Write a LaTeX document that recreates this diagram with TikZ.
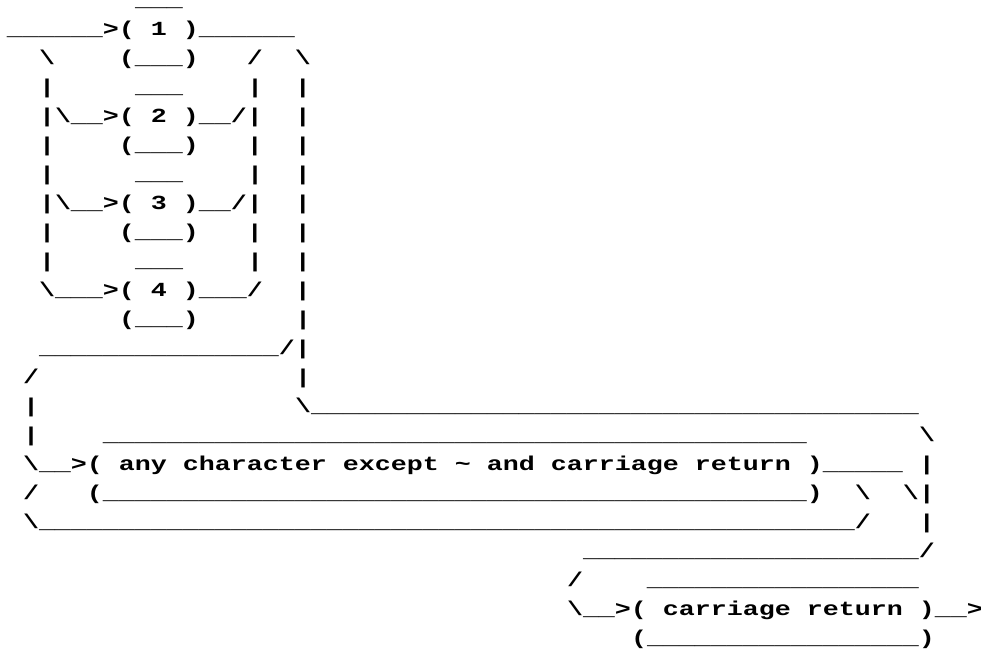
\documentclass[tikz,border=0pt]{standalone}
\usepackage{fontspec}
\setmonofont[FakeStretch=1.3333]{Liberation Mono}
\usepackage{tikz}
\usetikzlibrary{positioning}

% one column of the character grid
\newlength\colw
\setlength\colw{12pt}
\newcommand\gap[1]{\hspace*{#1\colw}}
\newcommand\bars[1]{\foreach\k in {1,...,#1}{\textunderscore}}
\newcommand\bs{\textbackslash}
\newcommand\gridfont{\ttfamily\bfseries\fontsize{15pt}{21.75pt}\selectfont
  \fontdimen2\font=\colw \fontdimen3\font=0pt \fontdimen4\font=0pt}

\tikzset{
  art/.style={anchor=base west, inner sep=0pt, outer sep=0pt, font=\gridfont},
}

\begin{document}
\begin{tikzpicture}[x=\colw, y=-21.75pt]
  \useasboundingbox (-5.25pt,4.5pt) rectangle (730.5pt,-486pt);
  \frenchspacing
  % choice of 1..4
  \node[art, text height=1pt] (row1) at (0,0) {\gap{8}\bars{3}};
  \node[art] (row2)  at (0,1)  {\bars{6}>( 1 )\bars{6}};
  \node[art] (row3)  at (0,2)  {\gap{2}\bs\gap{4}(\bars{3})\gap{3}/\gap{2}\bs};
  \node[art] (row4)  at (0,3)  {\gap{2}|\gap{5}\bars{3}\gap{4}|\gap{2}|};
  \node[art] (row5)  at (0,4)  {\gap{2}|\bs\bars{2}>( 2 )\bars{2}/|\gap{2}|};
  \node[art] (row6)  at (0,5)  {\gap{2}|\gap{4}(\bars{3})\gap{3}|\gap{2}|};
  \node[art] (row7)  at (0,6)  {\gap{2}|\gap{5}\bars{3}\gap{4}|\gap{2}|};
  \node[art] (row8)  at (0,7)  {\gap{2}|\bs\bars{2}>( 3 )\bars{2}/|\gap{2}|};
  \node[art] (row9)  at (0,8)  {\gap{2}|\gap{4}(\bars{3})\gap{3}|\gap{2}|};
  \node[art] (row10) at (0,9)  {\gap{2}|\gap{5}\bars{3}\gap{4}|\gap{2}|};
  \node[art] (row11) at (0,10) {\gap{2}\bs\bars{3}>( 4 )\bars{3}/\gap{2}|};
  \node[art] (row12) at (0,11) {\gap{7}(\bars{3})\gap{6}|};
  % loop over other characters
  \node[art] (row13) at (0,12) {\gap{2}\bars{15}/|};
  \node[art] (row14) at (0,13) {\gap{1}/\gap{16}|};
  \node[art] (row15) at (0,14) {\gap{1}|\gap{16}\bs\bars{38}};
  \node[art] (row16) at (0,15) {\gap{1}|\gap{4}\bars{44}\gap{7}\bs};
  \node[art] (row17) at (0,16) {\gap{1}\bs\bars{2}>( any character except \textasciitilde{} and carriage return )\bars{5} |};
  \node[art] (row18) at (0,17) {\gap{1}/\gap{3}(\bars{44})\gap{2}\bs\gap{2}\bs|};
  \node[art] (row19) at (0,18) {\gap{1}\bs\bars{51}/\gap{3}|};
  % end of line
  \node[art] (row20) at (0,19) {\gap{36}\bars{21}/};
  \node[art] (row21) at (0,20) {\gap{35}/\gap{4}\bars{17}};
  \node[art] (row22) at (0,21) {\gap{35}\bs\bars{2}>( carriage return )\bars{2}>};
  \node[art] (row23) at (0,22) {\gap{39}(\bars{17})};
\end{tikzpicture}
\end{document}
